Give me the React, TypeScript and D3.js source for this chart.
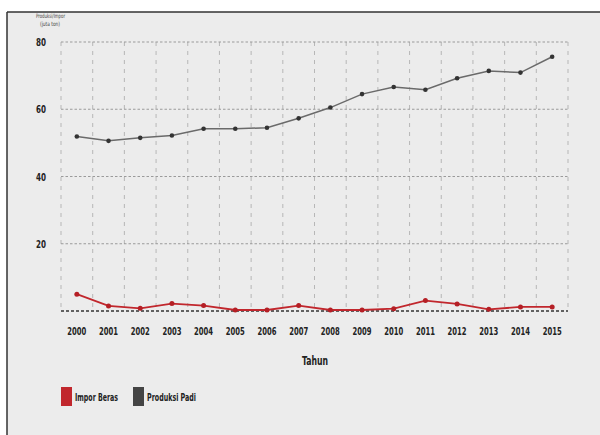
import React, { useEffect } from "react";
import * as d3 from "d3";

const years = ["2000","2001","2002","2003","2004","2005","2006","2007","2008","2009","2010","2011","2012","2013","2014","2015"];
const produksiPadi = [51.9, 50.6, 51.5, 52.2, 54.2, 54.2, 54.5, 57.3, 60.5, 64.5, 66.6, 65.8, 69.2, 71.4, 70.9, 75.6];
const imporBeras = [5.0, 1.5, 0.8, 2.2, 1.6, 0.3, 0.3, 1.6, 0.3, 0.3, 0.7, 3.1, 2.1, 0.5, 1.2, 1.2];
const yTicks = [20, 40, 60, 80];
const seriesNames = ["Impor Beras", "Produksi Padi"];
const seriesColors = ["#c1272d", "#444444"];

const W = 600, H = 435;
const left = 61, right = 568, top = 42, bottom = 311;
const font = "'DejaVu Sans Condensed', 'DejaVu Sans', sans-serif";

export default function App() {
  useEffect(() => { document.body.style.margin = "0"; }, []);
  const x = d3.scaleBand<string>().domain(years).range([left, right]).padding(0);
  const y = d3.scaleLinear().domain([0, 80]).range([bottom, top]);
  const cx = (yr: string) => (x(yr) as number) + x.bandwidth() / 2;
  const line = d3.line<number>().x((_, i) => cx(years[i])).y((d) => y(d));
  const bounds = years.map((yr) => x(yr) as number).concat([right]);

  return (
    <svg width={W} height={H} style={{ position: "absolute", left: 0, top: 0, display: "block" }}>
      <rect x={0} y={0} width={W} height={H} fill="#ffffff" />
      <rect x={7} y={12} width={W - 7} height={H - 12} fill="#ececec" />
      <line x1={7} x2={W} y1={12} y2={12} stroke="#333" strokeWidth={1.5} />
      <line x1={7} x2={7} y1={12} y2={H} stroke="#333" strokeWidth={1.5} />

      <text x={36} y={18} fontSize={6} fontFamily={font} fill="#444" textLength={29} lengthAdjust="spacingAndGlyphs">Produksi/Impor</text>
      <text x={40} y={26} fontSize={6} fontFamily={font} fill="#444" textLength={20} lengthAdjust="spacingAndGlyphs">(juta ton)</text>

      {bounds.map((bx, i) => (
        <line key={"v" + i} x1={bx} x2={bx} y1={top} y2={bottom} stroke="#aaaaaa" strokeWidth={0.8} strokeDasharray="4,5" />
      ))}
      {yTicks.map((t) => (
        <g key={"h" + t}>
          <line x1={left} x2={right} y1={y(t)} y2={y(t)} stroke="#9a9a9a" strokeWidth={1} strokeDasharray="2.5,2" />
          <text x={36} y={y(t) + 4} fontSize={11} fontWeight="bold" fontFamily={font} fill="#222" textLength={10} lengthAdjust="spacingAndGlyphs">{t}</text>
        </g>
      ))}
      <line x1={left} x2={right} y1={y(0)} y2={y(0)} stroke="#333" strokeWidth={1.4} strokeDasharray="3,2" />

      <path d={line(produksiPadi) || ""} fill="none" stroke="#6a6a6a" strokeWidth={1.5} />
      {produksiPadi.map((v, i) => (
        <circle key={"p" + i} cx={cx(years[i])} cy={y(v)} r={2.3} fill="#333" />
      ))}
      <path d={line(imporBeras) || ""} fill="none" stroke="#c1272d" strokeWidth={1.8} />
      {imporBeras.map((v, i) => (
        <circle key={"i" + i} cx={cx(years[i])} cy={y(v)} r={2.5} fill="#b51f25" />
      ))}

      {years.map((yr) => (
        <text key={"x" + yr} x={cx(yr) - 9.5} y={335} fontSize={11} fontWeight="bold" fontFamily={font} fill="#222" textLength={19} lengthAdjust="spacingAndGlyphs">{yr}</text>
      ))}
      <text x={302} y={365} fontSize={13} fontWeight="bold" fontFamily={font} fill="#222" textLength={26} lengthAdjust="spacingAndGlyphs">Tahun</text>

      <rect x={61} y={387} width={11} height={19} fill={seriesColors[0]} />
      <text x={75} y={401} fontSize={10.5} fontWeight="bold" fontFamily={font} fill="#222" textLength={43} lengthAdjust="spacingAndGlyphs">{seriesNames[0]}</text>
      <rect x={133} y={387} width={11} height={19} fill={seriesColors[1]} />
      <text x={147} y={401} fontSize={10.5} fontWeight="bold" fontFamily={font} fill="#222" textLength={49} lengthAdjust="spacingAndGlyphs">{seriesNames[1]}</text>
    </svg>
  );
}
